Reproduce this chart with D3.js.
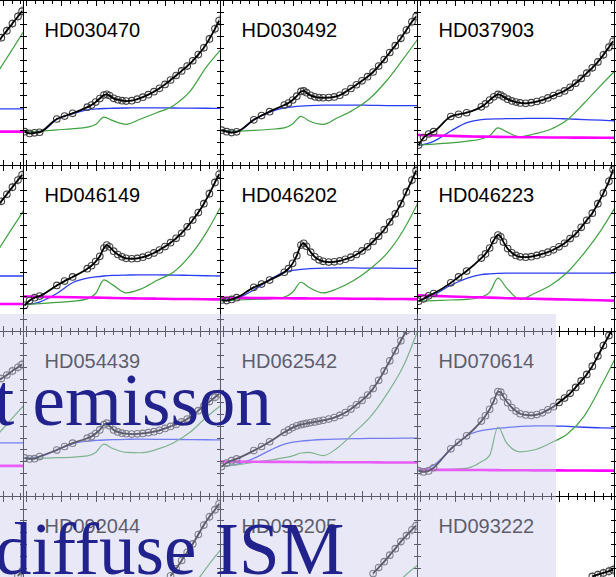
<!DOCTYPE html>
<html>
<head>
<meta charset="utf-8">
<script src="https://cdn.jsdelivr.net/npm/d3@7.9.0/dist/d3.min.js"></script>
<style>
  html, body { margin: 0; padding: 0; background: #fff; overflow: hidden; }
  svg { display: block; }
</style>
</head>
<body>
<div id="chart"></div>
<script>
// wavelength grids, inverse microns (same for every star)
const obsX = [1.64, 1.82, 2.0, 2.18, 2.8, 3.08, 3.37, 3.9, 4.05, 4.2, 4.35, 4.5, 4.6, 4.7, 4.85, 5.0, 5.15, 5.3,
  5.5, 5.7, 5.9, 6.1, 6.3, 6.5, 6.7, 6.9, 7.1, 7.3, 7.5, 7.7, 7.9, 8.1, 8.3, 8.5, 8.65];
const compX = [1.6, 2.2, 2.8, 3.4, 3.9, 4.2, 4.5, 4.8, 5.3, 5.8, 6.4, 7.0, 7.6, 8.2, 8.7];
const errHalf = [0.1, 0.1, 0.1, 0.1, 0.12, 0.12, 0.12, 0.1, 0.1, 0.1, 0.1, 0.1, 0.1, 0.1, 0.1, 0.1, 0.1, 0.1,
  0.11, 0.12, 0.12, 0.13, 0.14, 0.15, 0.17, 0.19, 0.21, 0.23, 0.26, 0.29, 0.32, 0.35, 0.38, 0.42, 0.45];

// row 1
const hd030470Obs = [-0.1, -0.25, -0.2, -0.15, 0.97, 1.22, 1.45, 1.97, 2.15, 2.4, 2.7, 3.0, 3.06, 2.95, 2.72, 2.6, 2.52, 2.49,
  2.52, 2.65, 2.82, 3.03, 3.28, 3.57, 3.9, 4.27, 4.65, 5.04, 5.45, 5.9, 6.42, 7.0, 7.75, 8.6, 9.3];
const hd030470Blue = [-0.1, -0.12, 0.95, 1.45, 1.75, 1.82, 1.86, 1.88, 1.9, 1.91, 1.91, 1.9, 1.89, 1.88, 1.87];
const hd030470Green = [-0.1, -0.05, 0.05, 0.15, 0.28, 0.5, 1.12, 0.85, 0.52, 0.95, 1.5, 2.1, 3.3, 5.4, 6.8];

const hd030492Obs = [0.02, -0.1, -0.18, -0.12, 0.9, 1.26, 1.59, 2.15, 2.32, 2.58, 2.9, 3.3, 3.35, 3.2, 2.97, 2.85, 2.78, 2.77,
  2.78, 2.84, 2.98, 3.25, 3.55, 3.87, 4.2, 4.55, 4.95, 5.45, 6.0, 6.6, 7.18, 7.8, 8.5, 9.2, 9.65];
const hd030492Blue = [0.02, -0.1, 0.9, 1.58, 1.92, 2.0, 2.06, 2.1, 2.14, 2.15, 2.15, 2.13, 2.11, 2.1, 2.1];
const hd030492Green = [-0.05, -0.05, 0.0, 0.1, 0.22, 0.55, 1.2, 0.8, 0.52, 1.05, 1.75, 2.75, 4.25, 6.1, 7.7];

const hd037903Obs = [-1.24, -0.6, -0.3, -0.1, 1.18, 1.37, 1.5, 2.0, 2.25, 2.57, 2.85, 3.05, 3.0, 2.85, 2.65, 2.5, 2.4, 2.33,
  2.3, 2.35, 2.45, 2.57, 2.75, 2.95, 3.15, 3.35, 3.65, 4.0, 4.4, 4.85, 5.3, 5.8, 6.4, 7.05, 7.55];
const hd037903Blue = [-1.3, -0.9, -0.05, 0.68, 0.92, 0.96, 0.98, 1.0, 1.01, 1.02, 1.02, 0.98, 0.92, 0.87, 0.82];
const hd037903Green = [-1.25, -1.15, -1.05, -0.9, -0.72, -0.45, 0.22, -0.1, -0.53, -0.3, 0.1, 0.9, 2.3, 3.8, 5.0];
const hd037903Magenta = [-0.38, -0.42, -0.46, -0.5, -0.52, -0.53, -0.54, -0.55, -0.57, -0.58, -0.59, -0.6, -0.61, -0.62, -0.62];

// row 2
const hd046149Obs = [-0.8, -0.4, -0.15, -0.02, 0.88, 1.25, 1.6, 2.3, 2.55, 2.9, 3.35, 4.05, 4.3, 4.15, 3.78, 3.5, 3.3, 3.18,
  3.14, 3.17, 3.27, 3.43, 3.63, 3.88, 4.17, 4.5, 4.87, 5.3, 5.85, 6.42, 7.05, 7.8, 8.65, 9.6, 10.3];
const hd046149Blue = [-0.75, -0.5, 0.2, 1.15, 1.5, 1.6, 1.68, 1.73, 1.76, 1.77, 1.77, 1.76, 1.73, 1.7, 1.68];
const hd046149Green = [-0.75, -0.65, -0.55, -0.45, -0.25, 0.2, 1.35, 0.95, 0.25, 0.55, 1.3, 2.0, 3.4, 5.4, 7.5];
const hd046149Magenta = [-0.05, -0.08, -0.1, -0.12, -0.14, -0.15, -0.16, -0.18, -0.2, -0.22, -0.24, -0.26, -0.27, -0.29, -0.3];

const hd046202Obs = [-0.35, -0.4, -0.3, -0.15, 0.72, 1.0, 1.34, 2.0, 2.3, 2.75, 3.4, 4.3, 4.45, 4.2, 3.7, 3.3, 3.05, 2.92,
  2.86, 2.88, 2.96, 3.1, 3.27, 3.5, 3.8, 4.15, 4.6, 5.05, 5.6, 6.25, 6.95, 7.8, 8.8, 9.8, 10.6];
const hd046202Blue = [-0.4, -0.2, 0.5, 1.4, 2.0, 2.15, 2.25, 2.3, 2.35, 2.36, 2.36, 2.35, 2.34, 2.33, 2.32];
const hd046202Green = [-0.4, -0.35, -0.3, -0.25, -0.1, 0.3, 1.15, 0.7, 0.25, 0.6, 1.3, 2.3, 3.6, 5.6, 7.8];
const hd046202Magenta = [-0.15, -0.17, -0.18, -0.19, -0.2, -0.21, -0.21, -0.22, -0.22, -0.23, -0.24, -0.25, -0.26, -0.27, -0.28];

const hd046223Obs = [-0.45, -0.25, 0.0, 0.2, 1.1, 1.6, 2.1, 3.2, 3.55, 4.05, 4.7, 5.15, 5.0, 4.55, 4.0, 3.65, 3.42, 3.3,
  3.27, 3.32, 3.42, 3.55, 3.7, 3.9, 4.15, 4.45, 4.85, 5.25, 5.8, 6.4, 7.0, 7.8, 8.7, 9.7, 10.7];
const hd046223Blue = [-0.45, 0.1, 0.9, 1.5, 1.8, 1.86, 1.9, 1.92, 1.93, 1.93, 1.93, 1.93, 1.93, 1.93, 1.93];
const hd046223Green = [-0.45, -0.4, -0.35, -0.3, -0.1, 0.3, 1.5, 0.7, -0.3, 0.2, 0.9, 2.0, 3.6, 5.5, 7.4];
const hd046223Magenta = [0.05, 0.0, -0.05, -0.1, -0.13, -0.15, -0.17, -0.2, -0.22, -0.25, -0.28, -0.31, -0.34, -0.37, -0.4];

// row 3
const hd054439Obs = [0.28, 0.2, 0.22, 0.4, 0.95, 1.25, 1.53, 1.95, 2.1, 2.35, 2.65, 3.1, 3.22, 3.0, 2.65, 2.48, 2.38, 2.33,
  2.3, 2.32, 2.36, 2.42, 2.5, 2.62, 2.78, 2.95, 3.12, 3.33, 3.57, 3.88, 4.28, 4.7, 5.05, 5.42, 5.7];
const hd054439Blue = [0.28, 0.4, 0.95, 1.5, 1.7, 1.76, 1.8, 1.83, 1.86, 1.87, 1.86, 1.85, 1.83, 1.82, 1.81];
const hd054439Green = [0.28, 0.27, 0.3, 0.35, 0.45, 0.75, 1.45, 1.1, 0.75, 0.72, 1.0, 1.55, 2.45, 3.75, 4.7];

const hd062542Obs = [-0.45, -0.15, 0.05, 0.2, 0.9, 1.25, 1.65, 2.45, 2.65, 2.85, 3.0, 3.1, 3.15, 3.2, 3.27, 3.33, 3.4, 3.47,
  3.57, 3.7, 3.88, 4.12, 4.42, 4.78, 5.15, 5.6, 6.15, 6.85, 7.65, 8.5, 9.35, 10.2, 11.05, 11.9, 12.5];
const hd062542Blue = [-0.45, -0.25, 0.25, 0.95, 1.45, 1.62, 1.7, 1.76, 1.84, 1.88, 1.91, 1.93, 1.94, 1.95, 1.96];
const hd062542Green = [-0.45, -0.3, -0.1, 0.1, 0.3, 0.45, 0.7, 0.75, 0.48, 1.1, 2.4, 3.75, 5.7, 8.1, 11.0];
const hd062542Magenta = [-0.02, -0.03, -0.04, -0.05, -0.05, -0.06, -0.06, -0.07, -0.07, -0.08, -0.08, -0.09, -0.1, -0.1, -0.11];

const hd070614Obs = [-0.8, -0.9, -0.82, -0.55, 1.05, 1.6, 2.15, 3.4, 3.85, 4.4, 5.1, 5.9, 5.85, 5.45, 4.95, 4.55, 4.25, 4.02,
  3.92, 3.88, 3.95, 4.1, 4.35, 4.62, 4.98, 5.35, 5.75, 6.25, 6.8, 7.35, 8.05, 8.9, 9.8, 10.65, 11.3];
const hd070614Blue = [-0.8, -0.3, 1.0, 2.2, 2.6, 2.7, 2.78, 2.85, 2.95, 3.0, 3.0, 2.95, 2.88, 2.83, 2.8];
const hd070614Green = [-0.8, -0.75, -0.68, -0.58, -0.05, 0.5, 2.9, 1.6, 0.8, 0.95, 1.55, 2.3, 3.8, 6.3, 8.6];
const hd070614Magenta = [-0.72, -0.73, -0.73, -0.74, -0.74, -0.75, -0.75, -0.76, -0.76, -0.77, -0.77, -0.78, -0.78, -0.79, -0.79];

// row 4 (only the top is in view) -- short arrays line up with the end of the grid
const hd092044Obs = [4.3, 4.9, 5.6, 6.3, 7.0, 7.8, 8.6, 9.3, 9.9, 10.4];
const hd092044Green = [3.0, 5.0, 6.5];
const hd093205Obs = [4.5, 5.0, 5.5, 6.05, 6.6, 7.2, 7.7, 8.2, 8.55];
const hd093205Green = [2.5, 4.2, 5.2];
const hd093222Obs = [4.25, 4.4, 4.55, 4.7, 4.82];

// cut-off panels at the left edge (right end only)
const leftRow1Obs = [7.3, 7.85, 8.45, 9.05, 9.65, 10.1];
const leftRow1Blue = [1.82, 1.82, 1.82];
const leftRow1Green = [4.3, 6.5, 8.35];
const leftRow1Magenta = [-0.1, -0.1, -0.1];
const leftRow2Obs = [7.45, 8.0, 8.6, 9.2, 9.8, 10.25];
const leftRow2Blue = [1.68, 1.68, 1.68];
const leftRow2Green = [3.2, 5.4, 7.2];
const leftRow2Magenta = [-0.69, -0.69, -0.69];
const leftRow3Obs = [6.7, 7.0, 7.3, 7.65, 7.95, 8.2];
const leftRow3Blue = [1.56, 1.56, 1.56];
const leftRow3Green = [1.8, 3.4, 4.7];
const leftRow3Magenta = [-0.39, -0.39, -0.39];
const leftRow4Obs = [4.3, 4.7];

const panels = [
  { row: 0, col: 0, obs: leftRow1Obs, blue: leftRow1Blue, green: leftRow1Green, magenta: leftRow1Magenta },
  { row: 0, col: 1, name: 'HD030470', obs: hd030470Obs, blue: hd030470Blue, green: hd030470Green },
  { row: 0, col: 2, name: 'HD030492', obs: hd030492Obs, blue: hd030492Blue, green: hd030492Green },
  { row: 0, col: 3, name: 'HD037903', obs: hd037903Obs, blue: hd037903Blue, green: hd037903Green, magenta: hd037903Magenta },
  { row: 1, col: 0, obs: leftRow2Obs, blue: leftRow2Blue, green: leftRow2Green, magenta: leftRow2Magenta },
  { row: 1, col: 1, name: 'HD046149', obs: hd046149Obs, blue: hd046149Blue, green: hd046149Green, magenta: hd046149Magenta },
  { row: 1, col: 2, name: 'HD046202', obs: hd046202Obs, blue: hd046202Blue, green: hd046202Green, magenta: hd046202Magenta },
  { row: 1, col: 3, name: 'HD046223', obs: hd046223Obs, blue: hd046223Blue, green: hd046223Green, magenta: hd046223Magenta },
  { row: 2, col: 0, obs: leftRow3Obs, blue: leftRow3Blue, green: leftRow3Green, magenta: leftRow3Magenta },
  { row: 2, col: 1, name: 'HD054439', obs: hd054439Obs, blue: hd054439Blue, green: hd054439Green },
  { row: 2, col: 2, name: 'HD062542', obs: hd062542Obs, blue: hd062542Blue, green: hd062542Green, magenta: hd062542Magenta },
  { row: 2, col: 3, name: 'HD070614', obs: hd070614Obs, blue: hd070614Blue, green: hd070614Green, magenta: hd070614Magenta },
  { row: 3, col: 0, obs: leftRow4Obs },
  { row: 3, col: 1, name: 'HD092044', obs: hd092044Obs, green: hd092044Green },
  { row: 3, col: 2, name: 'HD093205', obs: hd093205Obs, green: hd093205Green },
  { row: 3, col: 3, name: 'HD093222', obs: hd093222Obs },
  { row: 0, col: 4 }, { row: 1, col: 4 }, { row: 2, col: 4 }, { row: 3, col: 4 },
];

const width = 616;
const height = 577;
const PW = 197;
const PH = 165.4;
const colLeft = (c) => 23.5 + (c - 1) * PW;
const rowTop = (r) => 0.5 + r * PH;

const x = d3.scaleLinear().domain([1.6, 8.7]).range([0, PW]);
const y = d3.scaleLinear().domain([-3, 11]).range([PH, 0]);

const xTicks = d3.range(23).map((k) => 1.69 + 0.3136 * k).filter((v) => v < 8.68);
const xMajor = xTicks.filter((v, i) => i % 4 === 0);
const yTicks = d3.range(-2, 11);

// pair values with the end of a grid
const tail = (grid, vals) => vals.map((v, i) => [grid[grid.length - vals.length + i], v]);

const line = d3.line()
  .x((d) => x(d[0]))
  .y((d) => y(d[1]))
  .curve(d3.curveMonotoneX);

const svg = d3.select('#chart')
  .append('svg')
  .attr('width', width)
  .attr('height', height);

svg.append('rect').attr('width', width).attr('height', height).attr('fill', '#fff');

panels.forEach((p, i) => {
  const g = svg.append('g')
    .attr('transform', `translate(${colLeft(p.col)},${rowTop(p.row)})`);

  g.append('clipPath').attr('id', 'clip' + i)
    .append('rect').attr('width', PW).attr('height', PH);

  const plot = g.append('g').attr('clip-path', `url(#clip${i})`);

  if (p.blue) {
    plot.append('path').datum(tail(compX, p.blue))
      .attr('d', line).attr('fill', 'none')
      .attr('stroke', '#2a3cf2').attr('stroke-width', 1.3);
  }
  if (p.green) {
    plot.append('path').datum(tail(compX, p.green))
      .attr('d', line).attr('fill', 'none')
      .attr('stroke', '#41a041').attr('stroke-width', 1.2);
  }
  if (p.magenta) {
    plot.append('path').datum(tail(compX, p.magenta))
      .attr('d', line).attr('fill', 'none')
      .attr('stroke', '#ff00ff').attr('stroke-width', 2.6);
  }

  if (p.obs) {
    const pts = tail(obsX, p.obs).map((d, k) => [d[0], d[1], errHalf[errHalf.length - p.obs.length + k]]);

    plot.append('g').selectAll('line')
      .data(pts)
      .join('line')
      .attr('x1', (d) => x(d[0])).attr('x2', (d) => x(d[0]))
      .attr('y1', (d) => y(d[1] - d[2])).attr('y2', (d) => y(d[1] + d[2]))
      .attr('stroke', '#999').attr('stroke-width', 1);

    plot.append('g').selectAll('circle')
      .data(pts)
      .join('circle')
      .attr('cx', (d) => x(d[0]))
      .attr('cy', (d) => y(d[1]))
      .attr('r', 3.3)
      .attr('fill', 'none')
      .attr('stroke', '#444')
      .attr('stroke-width', 1.1);

    plot.append('path').datum(pts)
      .attr('d', line).attr('fill', 'none')
      .attr('stroke', '#000').attr('stroke-width', 1.8);
  }

  // inward ticks on all four sides
  const axis = (gen, scale, vals, size, tx, ty) => {
    g.append('g')
      .attr('transform', `translate(${tx},${ty})`)
      .attr('shape-rendering', 'crispEdges')
      .call(gen(scale).tickValues(vals).tickSize(size).tickFormat(''))
      .call((s) => s.select('.domain').remove());
  };
  axis(d3.axisLeft, y, yTicks, -3.5, 0, 0);
  axis(d3.axisRight, y, yTicks, -3.5, PW, 0);
  axis(d3.axisTop, x, xTicks, -3.5, 0, 0);
  axis(d3.axisBottom, x, xTicks, -3.5, 0, PH);
  axis(d3.axisTop, x, xMajor, -5.5, 0, 0);
  axis(d3.axisBottom, x, xMajor, -5.5, 0, PH);

  g.append('rect')
    .attr('width', PW).attr('height', PH)
    .attr('fill', 'none').attr('stroke', '#000').attr('stroke-width', 1)
    .attr('shape-rendering', 'crispEdges');

  if (p.name) {
    g.append('text')
      .attr('x', 21).attr('y', 36.5)
      .attr('font-family', "'Liberation Sans', Arial, sans-serif")
      .attr('font-size', 20)
      .attr('fill', '#000')
      .text(p.name);
  }
});

// slide overlay on top of the figure
svg.append('rect')
  .attr('x', 0).attr('y', 314)
  .attr('width', 556).attr('height', height - 314)
  .attr('fill', 'rgb(205,205,238)')
  .attr('opacity', 0.45);

const big = svg.append('g')
  .attr('font-family', "'Liberation Serif', 'Times New Roman', serif")
  .attr('font-size', 73)
  .attr('fill', '#22228c');
big.append('text').attr('x', -6).attr('y', 425).text('t emisson');
big.append('text').attr('x', -5).attr('y', 574).text('diffuse ISM');
</script>
</body>
</html>
